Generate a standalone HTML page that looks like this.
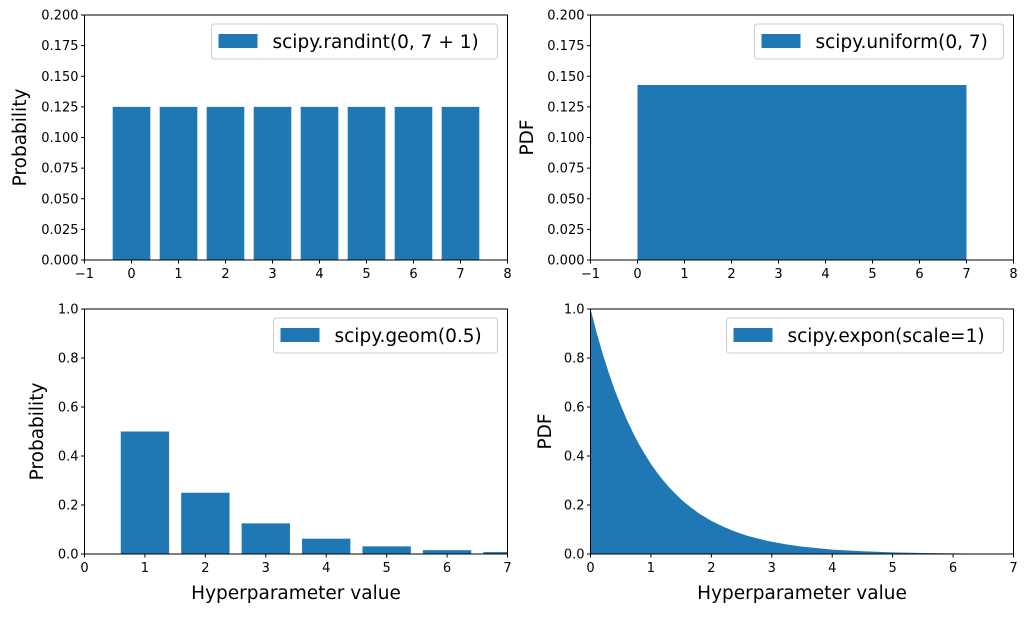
<!DOCTYPE html>
<html><head><meta charset="utf-8"><style>
body{margin:0;background:#fff;width:1028px;height:612px;overflow:hidden;font-family:"Liberation Sans","DejaVu Sans",sans-serif}
svg text{font-family:"DejaVu Sans","Liberation Sans",sans-serif}
</style></head><body>
<svg id="fig" width="1028" height="612" xmlns="http://www.w3.org/2000/svg"></svg>
<script>
const randintX=[0,1,2,3,4,5,6,7];
const randintP=[0.125,0.125,0.125,0.125,0.125,0.125,0.125,0.125];
const uniformRange=[0,7];
const uniformPdf=[0.142857];
const geomX=[1,2,3,4,5,6,7];
const geomP=[0.5,0.25,0.125,0.0625,0.03125,0.015625,0.0078];
const exponX=[0,0.1,0.2,0.3,0.4,0.5,0.6,0.7,0.8,0.9,1,1.1,1.2,1.3,1.4,1.5,1.6,1.7,1.8,1.9,2,2.2,2.4,2.6,2.8,3,3.25,3.5,3.75,4,4.5,5,5.5,6,6.5,7];
const exponPdf=[1,0.905,0.819,0.741,0.670,0.607,0.549,0.497,0.449,0.407,0.368,0.333,0.301,0.273,0.247,0.223,0.202,0.183,0.165,0.150,0.135,0.111,0.091,0.074,0.061,0.050,0.039,0.030,0.024,0.018,0.011,0.0067,0.0041,0.0025,0.0015,0.0009];
const ticksTopY=["0.000","0.025","0.050","0.075","0.100","0.125","0.150","0.175","0.200"];
const ticksTopX=["−1","0","1","2","3","4","5","6","7","8"];
const ticksBotY=["0.0","0.2","0.4","0.6","0.8","1.0"];
const ticksBotX=["0","1","2","3","4","5","6","7"];
const C="#1f77b4";
const svg=document.getElementById('fig');
const NS="http://www.w3.org/2000/svg";
function el(t,a,txt){const e=document.createElementNS(NS,t);for(const k in a)e.setAttribute(k,a[k]);if(txt!==undefined)e.textContent=txt;svg.appendChild(e);return e;}
function panel(o){
 const {x0,x1,y0,y1,xmin,xmax,ymin,ymax,name}=o;
 const sx=v=>x0+(v-xmin)/(xmax-xmin)*(x1-x0);
 const sy=v=>y1-(v-ymin)/(ymax-ymin)*(y1-y0);
 o.draw(sx,sy);
 const f=el('rect',{x:x0,y:y0,width:x1-x0,height:y1-y0,fill:'none',stroke:'#000','stroke-width':1});
 
 
 o.yt.forEach(t=>{const v=parseFloat(t),y=sy(v);
  el('line',{x1:x0-3.5,x2:x0,y1:y,y2:y,stroke:'#000'});
  const tx=el('text',{x:x0-6,y:y+4.5,'font-size':13,'text-anchor':'end'},t);
  
  });
 o.xt.forEach(t=>{const v=parseFloat(t.replace('−','-')),x=sx(v);
  el('line',{x1:x,x2:x,y1:y1,y2:y1+3.5,stroke:'#000'});
  const tx=el('text',{x:x,y:y1+18,'font-size':13,'text-anchor':'middle'},t);
  
  });
 const yl=el('text',{x:0,y:0,'font-size':18.5,'text-anchor':'middle',transform:`translate(${o.ylx},${(y0+y1)/2}) rotate(-90)`},o.ylabel);
 
 
 if(o.xlabel){const xl=el('text',{x:(x0+x1)/2,y:y1+45,'font-size':18.5,'text-anchor':'middle'},o.xlabel);
  
  }
 const lw=o.legW, lx=x1-10-lw, ly=y0+9;
 const lb=el('rect',{x:lx,y:ly,width:lw,height:35,rx:3,fill:'#fff','fill-opacity':0.8,stroke:'#ccc'});
 
 
 el('rect',{x:lx+7,y:ly+10,width:39,height:14,fill:C});
 const lt=el('text',{x:lx+61,y:ly+24,'font-size':18.5},o.legend);
 
 
}
panel({name:'randint',x0:84.5,x1:507.5,y0:15,y1:260,xmin:-1,xmax:8,ymin:0,ymax:0.2,yt:ticksTopY,xt:ticksTopX,ylabel:'Probability',ylx:26,legend:'scipy.randint(0, 7 + 1)',legW:286,
 draw:(sx,sy)=>randintX.forEach((x,i)=>{const r=el('rect',{x:sx(x-0.4),y:sy(randintP[i]),width:sx(0.8)-sx(0),height:sy(0)-sy(randintP[i]),fill:C});
  
  })});
panel({name:'uniform',x0:590.5,x1:1013.5,y0:15,y1:260,xmin:-1,xmax:8,ymin:0,ymax:0.2,yt:ticksTopY,xt:ticksTopX,ylabel:'PDF',ylx:533,legend:'scipy.uniform(0, 7)',legW:249,
 draw:(sx,sy)=>{const r=el('rect',{x:sx(uniformRange[0]),y:sy(uniformPdf[0]),width:sx(uniformRange[1])-sx(uniformRange[0]),height:sy(0)-sy(uniformPdf[0]),fill:C});
  
  }});
panel({name:'geom',x0:84.5,x1:507.5,y0:309,y1:554,xmin:0,xmax:7,ymin:0,ymax:1,yt:ticksBotY,xt:ticksBotX,ylabel:'Probability',ylx:43,xlabel:'Hyperparameter value',legend:'scipy.geom(0.5)',legW:224,
 draw:(sx,sy)=>geomX.forEach((x,i)=>{const xa=sx(x-0.4),xb=Math.min(sx(x+0.4),507.5);const r=el('rect',{x:xa,y:sy(geomP[i]),width:xb-xa,height:sy(0)-sy(geomP[i]),fill:C});
  
  })});
panel({name:'expon',x0:590.5,x1:1013.5,y0:309,y1:554,xmin:0,xmax:7,ymin:0,ymax:1,yt:ticksBotY,xt:ticksBotX,ylabel:'PDF',ylx:551,xlabel:'Hyperparameter value',legend:'scipy.expon(scale=1)',legW:277,
 draw:(sx,sy)=>{let d=`M${sx(exponX[0])},${sy(0)}`;exponX.forEach((x,i)=>d+=` L${sx(x)},${sy(exponPdf[i])}`);d+=` L${sx(exponX[exponX.length-1])},${sy(0)} Z`;
  const p=el('path',{d:d,fill:C});
  
  }});
</script>
</body></html>
